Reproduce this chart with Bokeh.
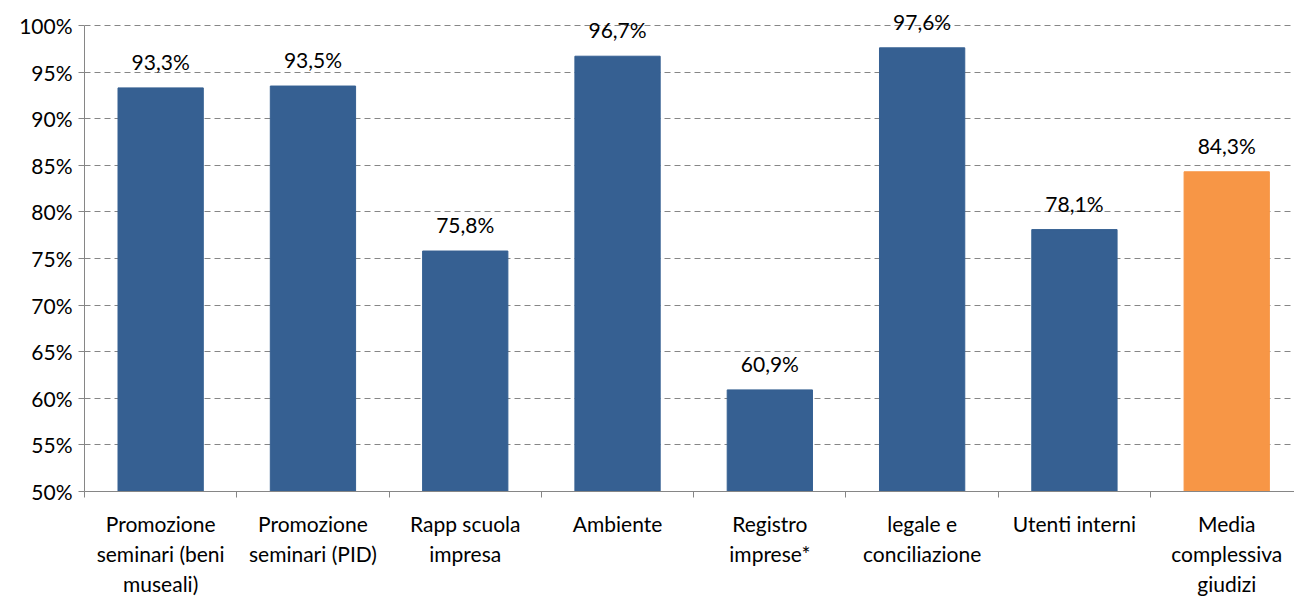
from bokeh.plotting import figure
from bokeh.models import ColumnDataSource, Range1d, FixedTicker, PrintfTickFormatter
from bokeh.core.properties import value
from bokeh.embed import file_html
from bokeh.resources import INLINE

categories = ["Promozione\nseminari (beni\nmuseali)", "Promozione\nseminari (PID)", "Rapp scuola\nimpresa",
              "Ambiente", "Registro\nimprese*", "legale e\nconciliazione", "Utenti interni",
              "Media\ncomplessiva\ngiudizi"]
values = [93.3, 93.5, 75.8, 96.7, 60.9, 97.6, 78.1, 84.3]
colors = ["#366092"] * 7 + ["#F79646"]
y_ticks = list(range(50, 101, 5))

FONT = "Lato"
FS = "21px"

xs = [i + 0.5 for i in range(len(categories))]
labels = [("%.1f%%" % v).replace(".", ",") for v in values]
src = ColumnDataSource(dict(x=xs, top=values, color=colors, label=labels))

# frame: 492 px tall, 9.34 px per percentage point -> top of frame above 100%
p = figure(width=1294, height=598, output_backend="svg", toolbar_location=None,
           x_range=Range1d(0, 7.945), y_range=Range1d(50, 50 + 492 / 9.34),
           min_border_left=84, min_border_top=0, min_border_bottom=106, min_border_right=0)
p.outline_line_color = None
p.background_fill_color = "white"

p.vbar(x="x", top="top", bottom=50, width=0.56, color="color", source=src)
p.text(x="x", y="top", text="label", source=src, text_align="center", text_baseline="bottom",
       y_offset=-14, text_font=value(FONT), text_font_size=FS, text_color="#000000")

# y axis
p.yaxis.bounds = (50, 100)
p.yaxis.ticker = FixedTicker(ticks=y_ticks)
p.yaxis.formatter = PrintfTickFormatter(format="%d%%")
p.yaxis.axis_line_color = "#868686"
p.yaxis.major_tick_line_color = "#868686"
p.yaxis.major_tick_out = 6
p.yaxis.major_tick_in = 0
p.yaxis.minor_tick_line_color = None
p.yaxis.major_label_text_font = FONT
p.yaxis.major_label_text_font_size = FS
p.yaxis.major_label_text_color = "#000000"
p.yaxis.major_label_standoff = 6

# x axis
p.xaxis.ticker = FixedTicker(ticks=xs, minor_ticks=list(range(len(categories) + 1)))
p.xaxis.major_label_overrides = {x: c for x, c in zip(xs, categories)}
p.xaxis.axis_line_color = "#868686"
p.xaxis.major_tick_line_color = None
p.xaxis.minor_tick_line_color = "#868686"
p.xaxis.minor_tick_out = 6
p.xaxis.minor_tick_in = 0
p.xaxis.major_label_text_font = FONT
p.xaxis.major_label_text_font_size = FS
p.xaxis.major_label_text_color = "#000000"
p.xaxis.major_label_standoff = 13

p.xgrid.grid_line_color = None
p.ygrid.ticker = FixedTicker(ticks=y_ticks)
p.ygrid.grid_line_color = "#868686"
p.ygrid.grid_line_dash = "6 4"
p.ygrid.grid_line_width = 1

open("out.html", "w").write(file_html(p, INLINE))
